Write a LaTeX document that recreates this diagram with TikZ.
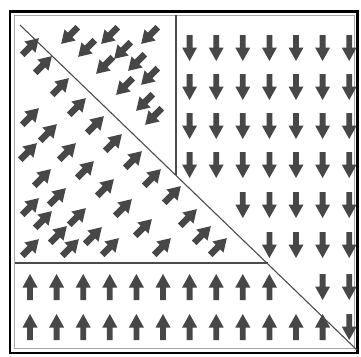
\documentclass[tikz,border=0pt]{standalone}
\begin{document}
\begin{tikzpicture}[x=1pt,y=-1pt,
  arrowfill/.style={fill=black!72},
  arr/.pic={\fill[arrowfill] (-2.9,13) -- (-2.9,0.5) -- (-7.5,0.5) -- (0,-13) -- (7.5,0.5) -- (2.9,0.5) -- (2.9,13) -- cycle;},
  darr/.pic={\fill[arrowfill] (-3.3,11) -- (-3.3,0) -- (-7.8,0) -- (0,-12.5) -- (7.8,0) -- (3.3,0) -- (3.3,11) -- cycle;},
  frameline/.style={draw=black,line width=2.8pt},
  innerframe/.style={draw=black!35,line width=0.8pt},
  wall/.style={draw=black!70,line width=1.1pt}]
\useasboundingbox (0,0) rectangle (361,356);
\fill[white] (0,0) rectangle (361,356);
% frame
\draw[frameline] (10,11.5) rectangle (357.5,353);
\draw[innerframe] (14.5,15.5) rectangle (354,348);
% boundary lines
\coordinate (dA) at (20,25);
\coordinate (dB) at (357,350);
\coordinate (vT) at (176,15);
\coordinate (vB) at (176,175.4);
\coordinate (hL) at (14.5,263);
\coordinate (hR) at (267.5,263);
\draw[wall] (dA) -- (dB);
\draw[wall] (vT) -- (vB);
\draw[wall] (hL) -- (hR);
% down arrows (right domain)
\foreach \r/\kmin in {48/6,87/6,126/6,165/6,205/8,245/9,287/11,327/12}{
  \foreach \k in {\kmin,...,12}{
    \path (30+26.6*\k,\r) pic[rotate=180]{arr};
  }
}
% up arrows (bottom domain)
\foreach \r/\kmax in {287/9,327/11}{
  \foreach \k in {0,...,\kmax}{
    \path (30+26.6*\k,\r) pic{arr};
  }
}
% down-left arrows (upper triangle)
\foreach \p in {(70,35),(110,35),(150,35),(87,48),(123,50),(105,65),(137,62),(150,76),(125,86),(145,102),(154,116)}{
  \path \p pic[rotate=135]{darr};
}
% up-right arrows (lower-left triangle)
\foreach \p in {(30,47),(43,65),(60,87),(77,107),(30,117),(95,125),(48,133),(113,143),(28,152),(67,152),(133,160),(85,170),(42,178),(152,178),(105,188),(172,195),(57,197),(30,207),(123,208),(77,217),(43,220),(188,218),(143,228),(58,235),(93,236),(202,235),(30,248),(70,248),(110,247),(162,247),(218,247)}{
  \path \p pic[rotate=-45]{darr};
}
\end{tikzpicture}
\end{document}
